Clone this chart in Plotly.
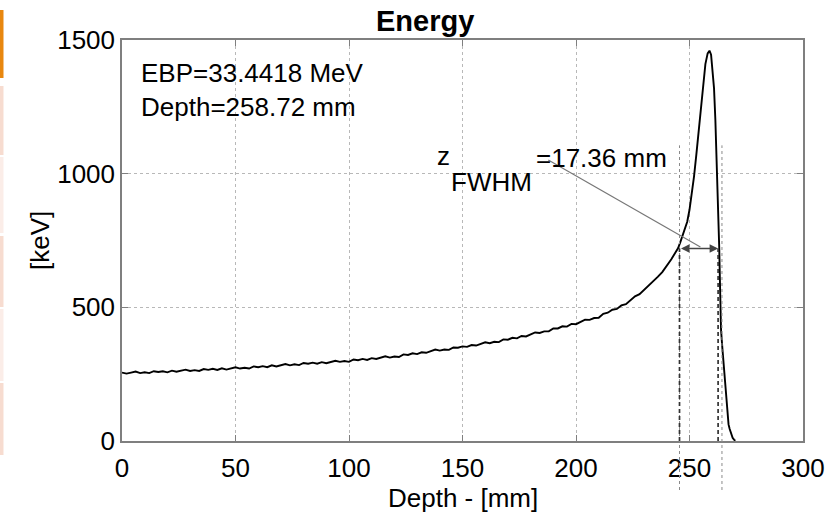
import plotly.graph_objects as go

# ---------------- data ----------------
depth_mm = [0, 2, 4, 6, 8, 10, 12, 14, 16, 18, 20, 22, 24, 26, 28, 30, 32, 34, 36, 38,
            40, 42, 44, 46, 48, 50, 52, 54, 56, 58, 60, 62, 64, 66, 68, 70, 72, 74, 76, 78,
            80, 82, 84, 86, 88, 90, 92, 94, 96, 98, 100, 102, 104, 106, 108, 110, 112, 114,
            116, 118, 120, 122, 124, 126, 128, 130, 132, 134, 136, 138, 140, 142, 144, 146,
            148, 150, 152, 154, 156, 158, 160, 162, 164, 166, 168, 170, 172, 174, 176, 178,
            180, 182, 184, 186, 188, 190, 192, 194, 196, 198, 200, 202, 204, 206, 208, 210,
            212, 214, 216, 218, 220, 222, 224, 226, 228, 230, 232, 234, 236, 238, 240, 242,
            244, 245, 246, 247, 248, 249, 250, 251, 252, 253, 254, 255, 256, 257, 258, 258.8,
            259.5, 260.2, 260.8, 261.4, 262, 262.6, 263.1, 263.5, 263.9, 264.5, 265.2, 265.8,
            266.4, 266.8, 267.2, 267.7, 268.3, 269, 269.6, 270.2]
energy_kev = [256, 252, 256, 260, 254, 257, 254, 261, 258, 261, 257, 263, 259, 263, 267, 262,
              265, 262, 269, 266, 270, 266, 272, 267, 272, 276, 271, 274, 271, 279, 276, 280,
              276, 283, 279, 284, 288, 283, 287, 284, 292, 289, 293, 289, 295, 291, 296, 300,
              296, 299, 296, 305, 302, 307, 303, 310, 307, 312, 317, 312, 316, 314, 324, 322,
              328, 325, 332, 330, 336, 342, 338, 342, 341, 350, 349, 354, 352, 359, 357, 363,
              369, 366, 371, 370, 380, 379, 386, 384, 393, 391, 399, 406, 404, 410, 410, 421,
              421, 429, 428, 438, 437, 446, 454, 453, 460, 461, 476, 480, 491, 494, 507, 512,
              526, 541, 549, 565, 579, 597, 614, 632, 655, 680, 708, 722, 745, 768, 790, 820,
              865, 920, 990, 1070, 1150, 1240, 1335, 1410, 1450, 1460, 1445, 1390, 1320, 1200,
              1050, 880, 721, 560, 415, 345, 264, 195, 125, 79, 62, 45, 25, 12, 5, 1]

fwhm_left = 245.6      # mm
fwhm_right = 262.6     # mm
fwhm_marker_right = 264.3
half_max = 720         # keV
marker_top = 1106      # keV

title_text = "Energy"
x_title = "Depth - [mm]"
y_title = "[keV]"
ebp_text = "EBP=33.4418 MeV"
depth_text = "Depth=258.72 mm"
fwhm_value_text = "=17.36 mm"

x_ticks = [0, 50, 100, 150, 200, 250, 300]
y_ticks = [0, 500, 1000, 1500]

# ---------------- layout geometry ----------------
W, H = 836, 516
L, R, T, B = 122, 33, 40, 75
PW, PH = W - L - R, H - T - B
FONT = "Liberation Sans, Arial, Helvetica, sans-serif"
FS = 26


def px_x(px):
    return (px - L) / PW


def px_y(py):
    return (H - B - py) / PH


fig = go.Figure()
fig.add_trace(go.Scatter(x=depth_mm, y=energy_kev, mode="lines",
                         line=dict(color="black", width=1.9),
                         hoverinfo="skip", showlegend=False))

shapes = []
# left-edge UI decoration
bars = [(10, 78, "#E8870F"), (86, 155, "#F7DCD0"), (157, 233, "#FBEDE8"),
        (236, 307, "#F7DCD0"), (309, 381, "#FBEDE8"), (383, 455, "#F7DCD0")]
for y0, y1, c in bars:
    shapes.append(dict(type="rect", xref="paper", yref="paper",
                       x0=px_x(0), x1=px_x(3.5), y0=px_y(y1), y1=px_y(y0),
                       fillcolor=c, line=dict(width=0), layer="above"))

# dotted marker lines (extend below axis)
for xv in (fwhm_left, fwhm_marker_right):
    shapes.append(dict(type="line", xref="x", yref="paper",
                       x0=xv, x1=xv, y0=px_y(490), y1=marker_top / 1500,
                       line=dict(color="#8a8a8a", width=1, dash="dot"), layer="above"))
# dashed FWHM lines
for xv in (fwhm_left, fwhm_right):
    shapes.append(dict(type="line", xref="x", yref="y",
                       x0=xv, x1=xv, y0=0, y1=half_max,
                       line=dict(color="#333333", width=1.7, dash="4px,3px"), layer="above"))
# pointer line from label to arrow
shapes.append(dict(type="line", xref="x", yref="y",
                   x0=187.8, y0=1051, x1=254.8, y1=726,
                   line=dict(color="#777777", width=1.2), layer="above"))

txt_font = dict(size=FS, family=FONT, color="black")
annotations = [
    dict(x=fwhm_right, y=half_max, ax=fwhm_left, ay=half_max, axref="x", ayref="y",
         xref="x", yref="y", text="", showarrow=True, arrowside="end+start",
         arrowhead=2, arrowsize=1.3, arrowwidth=1.3, arrowcolor="#444444"),
    dict(x=7.4, y=1377, xref="x", yref="y", text=ebp_text, showarrow=False,
         xanchor="left", yanchor="middle", font=txt_font),
    dict(x=7.4, y=1250, xref="x", yref="y", text=depth_text, showarrow=False,
         xanchor="left", yanchor="middle", font=txt_font),
    dict(x=138.0, y=1065, xref="x", yref="y", text="z", showarrow=False,
         xanchor="left", yanchor="middle", font=txt_font),
    dict(x=144.0, y=970, xref="x", yref="y", text="FWHM", showarrow=False,
         xanchor="left", yanchor="middle", font=txt_font),
    dict(x=181.5, y=1060, xref="x", yref="y", text=fwhm_value_text, showarrow=False,
         xanchor="left", yanchor="middle", font=txt_font),
    dict(x=px_x(425), y=px_y(21), xref="paper", yref="paper", text="<b>" + title_text + "</b>",
         showarrow=False, xanchor="center", yanchor="middle",
         font=dict(size=29, family=FONT, color="black")),
    dict(x=px_x(463), y=px_y(498), xref="paper", yref="paper", text=x_title,
         showarrow=False, xanchor="center", yanchor="middle", font=txt_font),
    dict(x=px_x(40), y=px_y(241), xref="paper", yref="paper", text=y_title,
         showarrow=False, xanchor="center", yanchor="middle", textangle=-90, font=txt_font),
]

axis_common = dict(showline=True, linecolor="#7f7f7f", linewidth=1.5, mirror="ticks",
                   ticks="inside", ticklen=6, tickcolor="#7f7f7f", tickwidth=1.2,
                   showgrid=True, gridcolor="#b8b8b8", griddash="dot", gridwidth=1,
                   zeroline=False, automargin=False,
                   tickfont=dict(size=FS, family=FONT, color="black"))

fig.update_layout(
    width=W, height=H,
    margin=dict(l=L, r=R, t=T, b=B, pad=0),
    paper_bgcolor="white", plot_bgcolor="white",
    shapes=shapes, annotations=annotations,
    xaxis=dict(range=[0, 300], tickvals=x_ticks, ticklabelstandoff=3, **axis_common),
    yaxis=dict(range=[0, 1500], tickvals=y_ticks, **axis_common),
)

fig.write_html("out.html")
